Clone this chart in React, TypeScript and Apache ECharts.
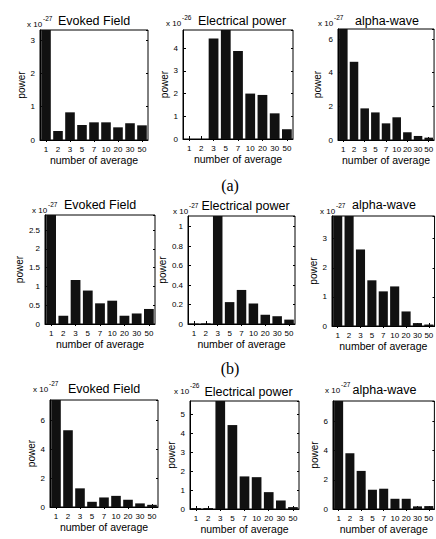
import React, { useEffect, useRef } from 'react';
import * as echarts from 'echarts';

// ---- data ----
const categories = ['1', '2', '3', '5', '7', '10', '20', '30', '50'];
const plotTitles = ['Evoked Field', 'Electrical power', 'alpha-wave'];

// (a)
const evokedA = [3.3, 0.27, 0.83, 0.45, 0.53, 0.53, 0.38, 0.5, 0.44];
const electricalA = [0, 0, 4.43, 4.8, 3.87, 2.0, 1.94, 1.13, 0.43];
const alphaA = [6.6, 4.65, 1.88, 1.64, 0.99, 1.35, 0.46, 0.24, 0.14];
// (b)
const evokedB = [2.9, 0.22, 1.17, 0.89, 0.55, 0.62, 0.22, 0.28, 0.4];
const electricalB = [0.004, 0.006, 1.11, 0.225, 0.35, 0.21, 0.095, 0.08, 0.045];
const alphaB = [3.78, 3.78, 2.63, 1.57, 1.19, 1.36, 0.5, 0.1, 0.05];
// (c)
const evokedC = [7.4, 5.3, 1.29, 0.36, 0.66, 0.77, 0.5, 0.25, 0.15];
const electricalC = [0.05, 0.05, 5.7, 4.43, 1.72, 1.68, 0.89, 0.45, 0.1];
const alphaC = [7.4, 3.82, 2.61, 1.32, 1.39, 0.7, 0.7, 0.18, 0.2];

const seriesValues = [evokedA, electricalA, alphaA, evokedB, electricalB, alphaB, evokedC, electricalC, alphaC];
const yMaxes = [3.3, 4.8, 6.6, 2.9, 1.11, 3.78, 7.4, 5.7, 7.4];
const yIntervals = [1, 1, 2, 0.5, 0.2, 1, 2, 1, 2];
const exponents = ['-27', '-26', '-27', '-27', '-27', '-27', '-27', '-26', '-27'];
const panelLabels = ['(a)', '(b)'];

// ---- layout (pixels) ----
const boxes = [
  [40, 30, 148, 140], [183, 30, 293, 139], [338, 29, 437, 140],
  [45, 215, 155, 324], [188, 216, 295, 324], [332, 216, 440, 326],
  [50, 400, 158, 507], [190, 401, 299, 509], [333, 401, 438, 509],
];
const yNameGaps = [11, 9, 16, 18, 12, 10, 11, 7, 7];
const titleY = [21, 21, 21, 205, 206, 205, 389, 392, 390];
const expoPos = [
  [27, 24], [166, 23], [318, 23],
  [32, 210], [173, 211], [320, 211],
  [33, 389], [174, 391], [325, 390],
];
const panelLabelPos = [[230, 185], [230, 368]];

const FONT = 'Liberation Sans, Arial, sans-serif';

export default function App() {
  const ref = useRef<HTMLDivElement>(null);
  useEffect(() => {
    if (!ref.current) return;
    const chart = echarts.init(ref.current, undefined, { renderer: 'svg' });
    const n = boxes.length;
    const grid = boxes.map(([l, t, r, b]) => ({
      left: l, top: t, width: r - l, height: b - t,
      show: true, borderColor: '#000', borderWidth: 1, backgroundColor: 'transparent',
    }));
    const xAxis: any[] = [];
    const yAxis: any[] = [];
    const series: any[] = [];
    for (let i = 0; i < n; i++) {
      xAxis.push({
        type: 'category', gridIndex: i, data: categories, position: 'bottom',
        axisLine: { show: true, lineStyle: { color: '#000', width: 1 } },
        axisTick: { show: true, inside: true, length: 3, alignWithLabel: true, lineStyle: { color: '#000' } },
        axisLabel: { color: '#000', fontSize: 8, margin: 5, interval: 0, fontFamily: FONT },
        name: 'number of average', nameLocation: 'middle', nameGap: 14,
        nameTextStyle: { color: '#000', fontSize: 10.5, fontFamily: FONT },
        splitLine: { show: false },
      });
    }
    for (let i = 0; i < n; i++) {
      xAxis.push({
        type: 'category', gridIndex: i, data: categories, position: 'top',
        axisLine: { show: false },
        axisTick: { show: true, inside: true, length: 2, alignWithLabel: true, lineStyle: { color: '#000' } },
        axisLabel: { show: false }, splitLine: { show: false },
      });
    }
    for (let i = 0; i < n; i++) {
      yAxis.push({
        type: 'value', gridIndex: i, min: 0, max: yMaxes[i], interval: yIntervals[i], position: 'left',
        axisLine: { show: true, lineStyle: { color: '#000', width: 1 } },
        axisTick: { show: true, inside: true, length: 3, lineStyle: { color: '#000' } },
        axisLabel: { color: '#000', fontSize: 8, margin: 5, showMaxLabel: false, fontFamily: FONT },
        splitLine: { show: false },
        name: 'power', nameLocation: 'middle', nameGap: yNameGaps[i], nameRotate: 90,
        nameTextStyle: { color: '#000', fontSize: 10, fontFamily: FONT },
      });
    }
    for (let i = 0; i < n; i++) {
      yAxis.push({
        type: 'value', gridIndex: i, min: 0, max: yMaxes[i], interval: yIntervals[i], position: 'right',
        axisLine: { show: false },
        axisTick: { show: true, inside: true, length: 2, lineStyle: { color: '#000' } },
        axisLabel: { show: false }, splitLine: { show: false },
      });
    }
    for (let i = 0; i < n; i++) {
      series.push({
        type: 'bar', xAxisIndex: i, yAxisIndex: i, data: seriesValues[i],
        barCategoryGap: '20%', clip: true, silent: true,
        itemStyle: { color: '#111' },
      });
    }
    const graphic: any[] = [];
    for (let i = 0; i < n; i++) {
      const [l, , r] = boxes[i];
      const col = i % 3;
      graphic.push({
        type: 'text', id: 'title' + i, x: (l + Math.min(r, 436)) / 2 + (col === 1 ? 4 : 0), y: titleY[i],
        style: {
          text: plotTitles[col], fill: '#000', fontSize: 12.5, fontFamily: FONT,
          align: 'center', verticalAlign: 'middle',
        },
        silent: true, z: 100,
      });
      const [ex, ey] = expoPos[i];
      graphic.push({
        type: 'group', id: 'expo' + i, x: ex, y: ey, z: 100, silent: true,
        children: [
          {
            type: 'text', x: 0, y: 0,
            style: { text: 'x 10', fill: '#000', fontSize: 8, fontFamily: FONT, align: 'left', verticalAlign: 'middle' },
          },
          {
            type: 'text', x: 16, y: -6,
            style: { text: exponents[i], fill: '#000', fontSize: 6.5, fontFamily: FONT, align: 'left', verticalAlign: 'middle' },
          },
        ],
      });
    }
    panelLabels.forEach((t, k) => {
      graphic.push({
        type: 'text', id: 'panel' + k, x: panelLabelPos[k][0], y: panelLabelPos[k][1],
        style: { text: t, fill: '#000', fontSize: 16, fontFamily: 'Liberation Serif, DejaVu Serif, serif', align: 'center', verticalAlign: 'middle' },
        silent: true, z: 100,
      });
    });
    chart.setOption({
      animation: false,
      backgroundColor: '#fff',
      textStyle: { fontFamily: FONT },
      grid, xAxis, yAxis, series, graphic,
    });
    return () => chart.dispose();
  }, []);
  return (
    <div
      ref={ref}
      style={{ position: 'fixed', left: 0, top: 0, width: 436, height: 539, background: '#fff' }}
    />
  );
}
